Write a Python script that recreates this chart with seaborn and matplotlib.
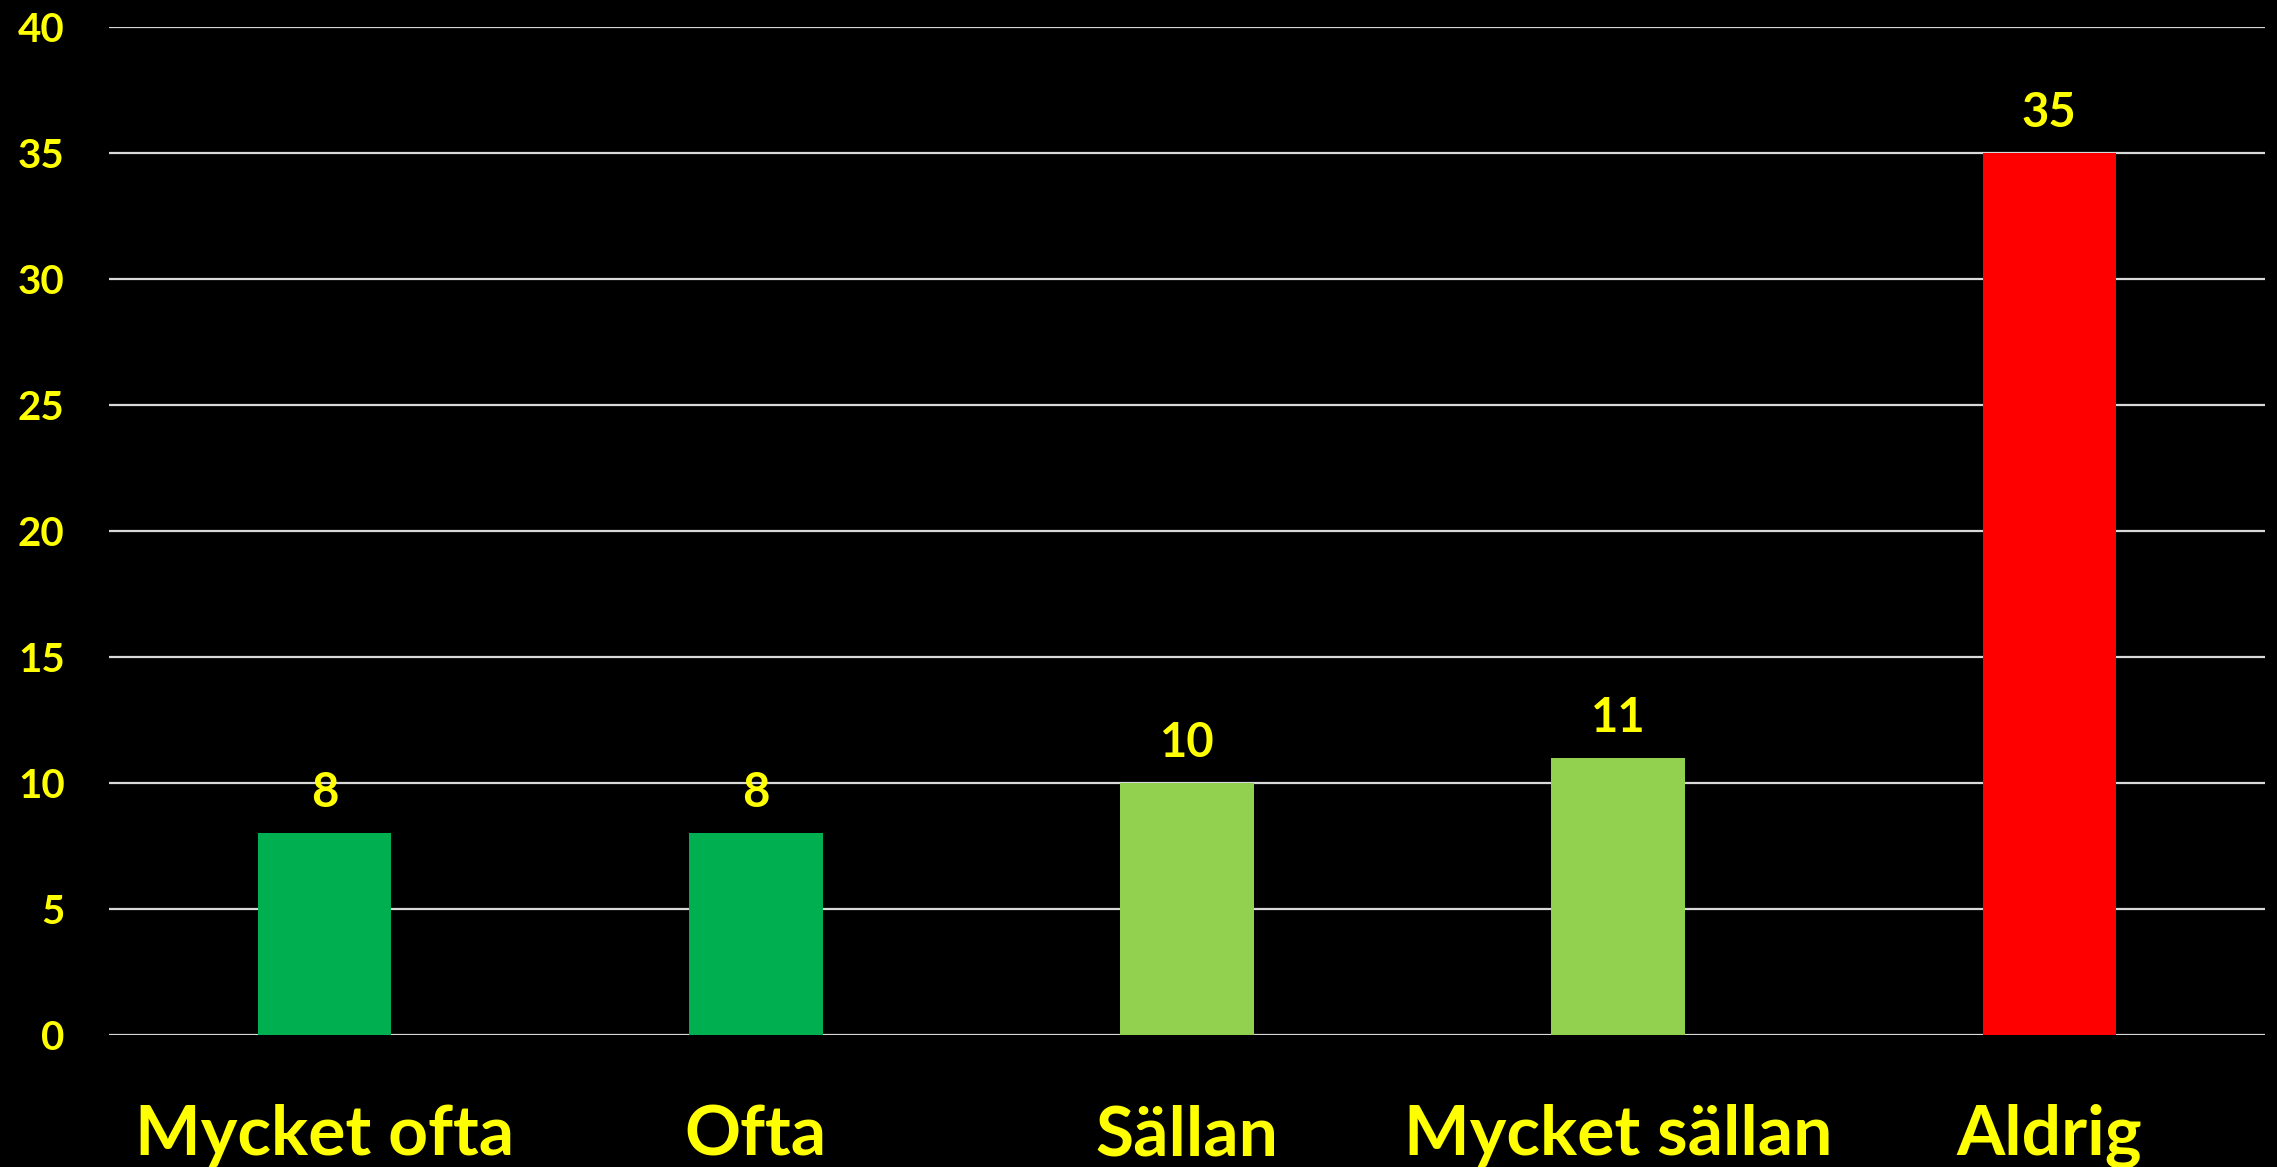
import pandas as pd
import numpy as np
import matplotlib.pyplot as plt
import seaborn as sns

# chart data
categories = ['Mycket ofta', 'Ofta', 'Sällan', 'Mycket sällan', 'Aldrig']
values = [8, 8, 10, 11, 35]
bar_colors = ['#00B050', '#00B050', '#92D050', '#92D050', '#FF0000']
yticks = [0, 5, 10, 15, 20, 25, 30, 35, 40]

YELLOW = '#FFFF00'


def make_chart():
    df = pd.DataFrame({'category': categories, 'value': values})

    sns.set_style('dark')
    plt.rcParams['font.family'] = ['Lato', 'DejaVu Sans']
    plt.rcParams['font.weight'] = 'bold'

    fig = plt.figure(figsize=(22.77, 11.67), dpi=100, facecolor='black')
    ax = fig.add_axes([0.0479, 0.1131, 0.9468, 0.8638])
    ax.set_facecolor('black')

    sns.barplot(data=df, x='category', y='value', hue='category',
                palette=dict(zip(categories, bar_colors)), legend=False,
                width=0.31, saturation=1, linewidth=0, ax=ax, zorder=3)

    # value labels on top of the bars
    for cont in ax.containers:
        ax.bar_label(cont, fmt='%d', padding=13, color=YELLOW,
                     fontsize=34, fontweight='bold')

    ax.set_ylim(0, 40)
    ax.set_xlim(-0.5, 4.5)
    ax.set_yticks(yticks)
    ax.set_yticklabels([str(t) for t in yticks])
    ax.yaxis.grid(True, color='#D9D9D9', linewidth=1.6, zorder=0)
    ax.xaxis.grid(False)
    for s in ax.spines.values():
        s.set_visible(False)

    ax.tick_params(axis='y', length=0, pad=32, labelsize=29, labelcolor=YELLOW)
    ax.tick_params(axis='x', length=0, pad=50, labelsize=50, labelcolor=YELLOW)
    for lab in ax.get_yticklabels() + ax.get_xticklabels():
        lab.set_fontweight('bold')
    ax.set_xlabel('')
    ax.set_ylabel('')

    fig.savefig('out.png', dpi=100, facecolor='black')


if __name__ == "__main__":
    make_chart()
